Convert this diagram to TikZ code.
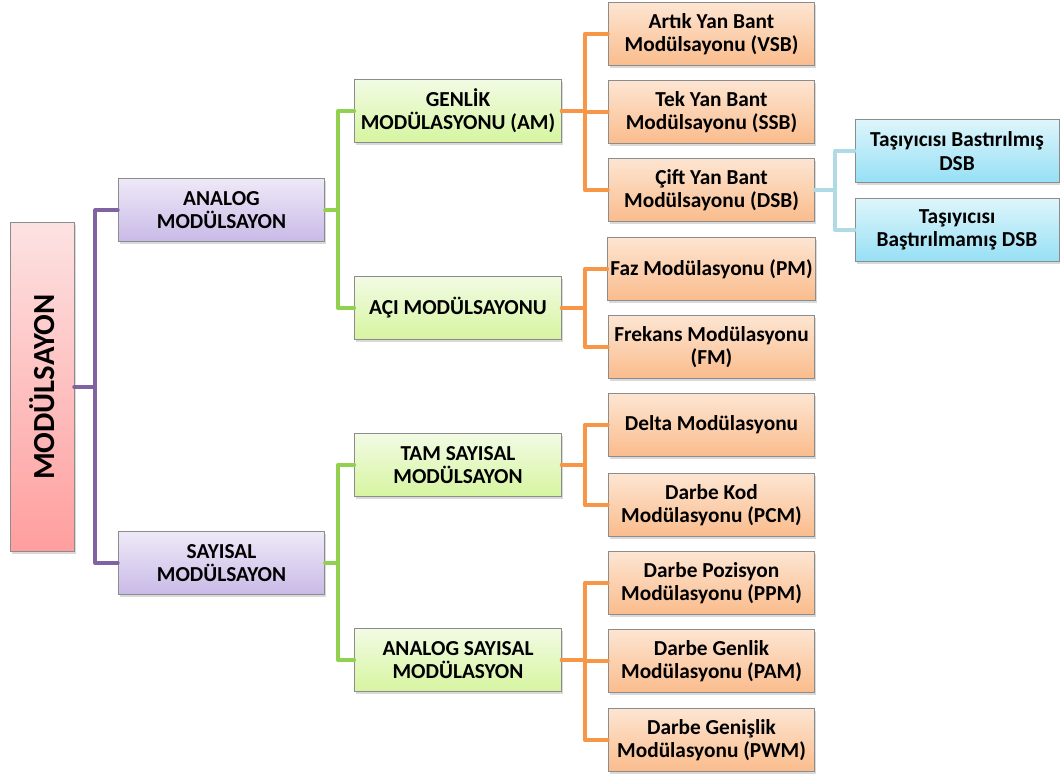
\documentclass[tikz,border=0pt]{standalone}
\usepackage{graphicx}
\usepackage{fontspec}
\setmainfont{Carlito}
\usepackage{tikz}
\usetikzlibrary{positioning, shadows}
\definecolor{roottop}{RGB}{253,226,226}
\definecolor{rootbottom}{RGB}{255,158,158}
\definecolor{purpletop}{RGB}{238,233,248}
\definecolor{purplebottom}{RGB}{201,186,231}
\definecolor{greentop}{RGB}{242,251,228}
\definecolor{greenbottom}{RGB}{214,245,160}
\definecolor{orangetop}{RGB}{253,229,210}
\definecolor{orangebottom}{RGB}{250,188,140}
\definecolor{bluetop}{RGB}{222,245,251}
\definecolor{bluebottom}{RGB}{150,224,245}
\definecolor{purpleline}{RGB}{128,100,162}
\definecolor{greenline}{RGB}{146,208,80}
\definecolor{orangeline}{RGB}{247,150,70}
\definecolor{blueline}{RGB}{176,218,230}
\tikzset{
    box/.style={
        rectangle,
        draw=black!45,
        line width=0.7pt,
        align=center,
        inner sep=2pt,
        minimum width=155pt,
        minimum height=47pt,
        font=\bfseries\fontsize{16}{17.5}\selectfont,
        drop shadow={opacity=0.3, shadow xshift=1.2pt, shadow yshift=-1.8pt}
    },
    rootbox/.style={
        box,
        top color=roottop,
        bottom color=rootbottom,
        minimum width=48pt,
        minimum height=247pt,
        font=\bfseries\fontsize{23}{25}\selectfont
    },
    mainbox/.style={box, top color=purpletop, bottom color=purplebottom},
    typebox/.style={box, top color=greentop, bottom color=greenbottom},
    leafbox/.style={box, top color=orangetop, bottom color=orangebottom},
    subleafbox/.style={box, top color=bluetop, bottom color=bluebottom, minimum width=153pt},
    link/.style={line width=3pt, line join=round, line cap=round},
    purplelink/.style={link, draw=purpleline},
    greenlink/.style={link, draw=greenline},
    orangelink/.style={link, draw=orangeline},
    bluelink/.style={link, draw=blueline}
}

\begin{document}
\begin{tikzpicture}[x=0.75pt, y=-0.75pt]
\useasboundingbox (0,0) rectangle (1060,774);

% Root
\node[rootbox] (root) at (42,387) {\rotatebox{90}{MODÜLSAYON}};

% Analog / sayisal
\node[mainbox] (analog) at (221.5,210) {ANALOG\\MODÜLSAYON};
\node[mainbox] (sayisal) at (221.5,563) {SAYISAL\\MODÜLSAYON};

% Modulation types
\node[typebox] (genlik) at (458,111) {GENLİK\\MODÜLASYONU (AM)};
\node[typebox] (aci) at (458,308) {AÇI MODÜLSAYONU};
\node[typebox] (tam) at (458,465) {TAM SAYISAL\\MODÜLSAYON};
\node[typebox] (analogsay) at (458,660) {ANALOG SAYISAL\\MODÜLASYON};

% Leaves
\node[leafbox] (vsb) at (711.5,34) {Artık Yan Bant\\Modülsayonu (VSB)};
\node[leafbox] (ssb) at (711.5,112) {Tek Yan Bant\\Modülsayonu (SSB)};
\node[leafbox] (dsb) at (711.5,190) {Çift Yan Bant\\Modülsayonu (DSB)};
\node[leafbox] (pm) at (711.5,269) {Faz Modülasyonu (PM)};
\node[leafbox] (fm) at (711.5,347) {Frekans Modülasyonu\\(FM)};
\node[leafbox] (delta) at (711.5,425) {Delta Modülasyonu};
\node[leafbox] (pcm) at (711.5,505) {Darbe Kod\\Modülasyonu (PCM)};
\node[leafbox] (ppm) at (711.5,583) {Darbe Pozisyon\\Modülasyonu (PPM)};
\node[leafbox] (pam) at (711.5,661) {Darbe Genlik\\Modülasyonu (PAM)};
\node[leafbox] (pwm) at (711.5,740) {Darbe Genişlik\\Modülasyonu (PWM)};

% DSB types
\node[subleafbox] (bastirilmis) at (957,151) {Taşıyıcısı Bastırılmış\\DSB};
\node[subleafbox] (bastirilmamis) at (957,230) {Taşıyıcısı\\Baştırılmamış DSB};

% Connections
\draw[purplelink] (root.east) -- ++(21,0) |- (analog.west);
\draw[purplelink] (root.east) -- ++(21,0) |- (sayisal.west);

\draw[greenlink] (analog.east) -- ++(13,0) |- (genlik.west);
\draw[greenlink] (analog.east) -- ++(13,0) |- (aci.west);
\draw[greenlink] (sayisal.east) -- ++(13,0) |- (tam.west);
\draw[greenlink] (sayisal.east) -- ++(13,0) |- (analogsay.west);

\foreach \leaf in {vsb, ssb, dsb}
    \draw[orangelink] (genlik.east) -- ++(23,0) |- (\leaf.west);
\foreach \leaf in {pm, fm}
    \draw[orangelink] (aci.east) -- ++(23,0) |- (\leaf.west);
\foreach \leaf in {delta, pcm}
    \draw[orangelink] (tam.east) -- ++(23,0) |- (\leaf.west);
\foreach \leaf in {ppm, pam, pwm}
    \draw[orangelink] (analogsay.east) -- ++(23,0) |- (\leaf.west);

\draw[bluelink] (dsb.east) -- ++(20,0) |- (bastirilmis.west);
\draw[bluelink] (dsb.east) -- ++(20,0) |- (bastirilmamis.west);

\end{tikzpicture}
\end{document}
